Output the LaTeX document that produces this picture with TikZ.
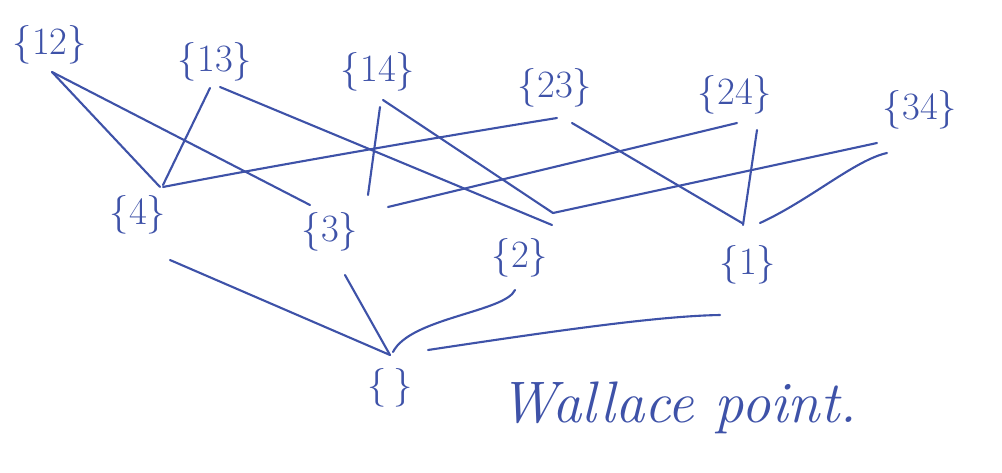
\documentclass[tikz,border=0pt]{standalone}
\definecolor{tinta}{RGB}{62,82,168}
\tikzset{conj/.style={font=\fontsize{33}{36}\selectfont, text=tinta, inner sep=0pt},
  lin/.style={draw=tinta, line width=1.8pt, line cap=round}}

\begin{document}
\begin{tikzpicture}[x=0.03cm, y=-0.03cm]
  \useasboundingbox (0,0) rectangle (1002,472);
  \node[conj] (s12) at (50,45) {\{12\}};
  \node[conj] (s13) at (215,62) {\{13\}};
  \node[conj] (s14) at (378,72) {\{14\}};
  \node[conj] (s23) at (555,88) {\{23\}};
  \node[conj] (s24) at (735,95) {\{24\}};
  \node[conj] (s34) at (920,110) {\{34\}};
  \node[conj] (s4) at (138,215) {\{4\}};
  \node[conj] (s3) at (330,232) {\{3\}};
  \node[conj] (s2) at (520,258) {\{2\}};
  \node[conj] (s1) at (748,265) {\{1\}};
  \node[conj] (s0) at (390,388) {\{\,\}};
  \node[conj, font=\fontsize{50}{54}\selectfont\itshape] (wal) at (678,408) {Wallace point.};

  \draw[lin] ([shift={(2,27)}]s12.center) -- ([shift={(22,-28)}]s4.center);
  \draw[lin] ([shift={(2,27)}]s12.center) -- ([shift={(-20,-27)}]s3.center);
  \draw[lin] ([shift={(-5,26)}]s13.center) -- ([shift={(25,-30)}]s4.center);
  \draw[lin] ([shift={(5,25)}]s13.center) -- ([shift={(32,-33)}]s2.center);
  \draw[lin] ([shift={(2,35)}]s14.center) -- ([shift={(38,-37)}]s3.center);
  \draw[lin] ([shift={(5,28)}]s14.center) -- ([shift={(33,-45)}]s2.center);
  \draw[lin] ([shift={(2,30)}]s23.center) .. controls (420,140) and (250,170) .. ([shift={(25,-28)}]s4.center);
  \draw[lin] ([shift={(17,35)}]s23.center) -- ([shift={(-6,-42)}]s1.center);
  \draw[lin] ([shift={(2,28)}]s24.center) -- ([shift={(58,-25)}]s3.center);
  \draw[lin] ([shift={(22,35)}]s24.center) -- ([shift={(-5,-40)}]s1.center);
  \draw[lin] ([shift={(-43,33)}]s34.center) -- ([shift={(33,-45)}]s2.center);
  \draw[lin] ([shift={(-33,43)}]s34.center) .. controls (855,160) and (810,200) .. ([shift={(12,-42)}]s1.center);
  \draw[lin] ([shift={(32,45)}]s4.center) -- ([shift={(0,-33)}]s0.center);
  \draw[lin] ([shift={(15,43)}]s3.center) -- ([shift={(0,-33)}]s0.center);
  \draw[lin] ([shift={(-5,32)}]s2.center) .. controls (505,312) and (410,318) .. ([shift={(3,-36)}]s0.center);
  \draw[lin] ([shift={(-28,50)}]s1.center) .. controls (660,316) and (560,330) .. ([shift={(38,-38)}]s0.center);
\end{tikzpicture}
\end{document}
